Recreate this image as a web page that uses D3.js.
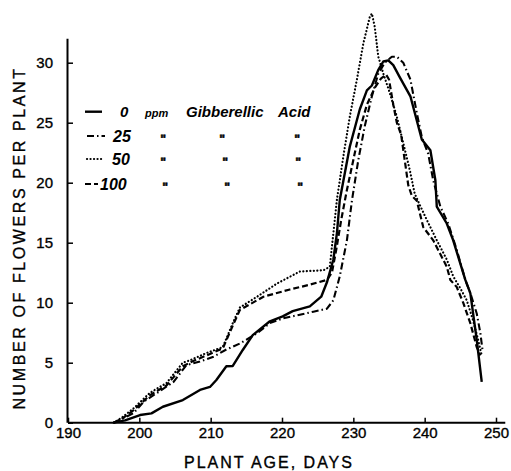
<!DOCTYPE html>
<html>
<head>
<meta charset="utf-8">
<script src="https://cdn.jsdelivr.net/npm/d3@7"></script>
<style>
html,body{margin:0;padding:0;background:#fff;}
svg{display:block;}
text{font-family:"Liberation Sans",Arial,sans-serif;fill:#000;}
</style>
</head>
<body>
<svg id="chart" width="511" height="471"></svg>
<script>
// ---- data (day, flowers per plant) ----
const series0 = [[196.4,0],[198,0.2],[200.1,0.64],[201.7,0.78],[203.3,1.33],[206.1,1.89],[208.5,2.73],[209.9,2.98],[210.8,3.56],[212.2,4.7],[213.1,4.73],[214.5,6.06],[215.9,7.3],[218.3,8.45],[220.1,8.86],[221.5,9.3],[223.9,9.7],[225.5,10.5],[226.3,11.7],[227.2,13.6],[227.7,15.8],[228.1,18.56],[229.5,23.0],[230.9,26.1],[231.9,27.7],[232.6,28.1],[233.5,29.4],[234.2,30.1],[234.9,30.2],[235.6,29.8],[236.5,28.8],[238.0,27.2],[239.6,23.6],[240.8,22.7],[241.5,20.2],[241.7,18.0],[243.1,16.6],[244.0,15.2],[245.7,11.9],[246.4,10.8],[247.3,6.9],[248.0,3.4]];
const series25 = [[196.4,0],[197.5,0.3],[199.2,0.8],[200.6,1.75],[202.4,2.45],[204.8,3.4],[206.6,4.8],[208.5,5.1],[210.4,5.5],[212.2,6.1],[214.1,6.6],[216.5,7.45],[218.3,8.3],[220.2,8.7],[222.5,9.0],[224.4,9.25],[226.3,9.5],[227.2,10.2],[228.1,12.2],[229.1,15.2],[229.8,18.5],[230.7,21.9],[231.6,24.7],[232.6,27.2],[233.5,29.1],[234.4,30.0],[235.4,30.5],[236.1,30.5],[237.0,30.0],[238.0,28.6],[238.9,25.8],[239.6,23.8],[240.5,22.4],[241.2,20.2],[242.2,18.0],[243.3,16.6],[244.5,14.4],[245.7,11.9],[246.4,10.8],[247.3,9.1],[247.8,7.5],[248.1,6.1]];
const series50 = [[196.4,0],[197.5,0.4],[199.2,1.2],[201.5,2.5],[203.8,3.3],[206.1,5.0],[207.1,5.2],[209.4,5.8],[211.7,6.3],[213.1,8.3],[214.1,9.6],[216.5,10.5],[219.3,11.6],[222.5,12.6],[225.8,12.7],[226.7,13.0],[227.7,18.6],[228.6,22.2],[229.5,25.5],[230.5,28.6],[231.4,31.6],[232.3,33.8],[232.6,34.1],[233.0,33.0],[233.5,30.5],[234.2,29.1],[235.1,27.5],[236.1,25.5],[237.0,23.3],[237.9,21.1],[238.6,19.1],[239.2,18.3],[240.3,16.9],[241.7,15.2],[243.1,13.6],[244.0,12.2],[245.0,11.2],[245.9,10.2],[246.8,8.5],[247.5,6.9],[248.0,5.6]];
const series100 = [[196.4,0],[197.5,0.3],[199.2,1.05],[201.5,2.3],[203.8,3.1],[206.1,4.7],[207.4,5.1],[209.4,5.6],[211.7,6.2],[213.1,8.1],[214.1,9.4],[216.5,10.2],[217.4,10.5],[221.1,11.1],[223.9,11.5],[226.3,11.9],[227.0,12.5],[227.6,14.4],[228.3,16.9],[229.1,19.4],[230.0,21.9],[230.9,24.4],[231.9,26.5],[233.0,27.9],[233.9,28.7],[234.6,29.0],[235.0,28.6],[235.6,26.5],[236.1,25.0],[236.7,24.0],[237.2,21.9],[237.7,19.8],[238.2,18.9],[238.9,18.5],[239.8,16.3],[241.2,15.2],[243.1,13.0],[243.6,11.9],[244.5,11.3],[245.4,10.0],[246.4,8.3],[247.3,6.3],[247.8,5.6]];
const xTicks = [190,200,210,220,230,240,250];
const yTicks = [0,5,10,15,20,25,30];
const legendDoses = ["0","25","50","100"];
const legendUnit = "ppm";
const legendWords = ["Gibberellic","Acid"];
const dittoMark = "\"";
const xTitle = "PLANT AGE, DAYS";
const yTitle = "NUMBER OF FLOWERS PER PLANT";

// ---- drawing ----
const svg = d3.select("#chart");
const x = d3.scaleLinear().domain([190,250]).range([68,496]);
const y = d3.scaleLinear().domain([0,30]).range([422.7,62.7]);

// axis lines
svg.append("line").attr("x1",x(190)).attr("x2",x(251.3)).attr("y1",y(0)).attr("y2",y(0))
  .attr("stroke","#000").attr("stroke-width",2);
svg.append("line").attr("x1",x(190)-0.5).attr("x2",x(190)-0.5).attr("y1",y(0)).attr("y2",y(32))
  .attr("stroke","#000").attr("stroke-width",2);

const xAxis = d3.axisBottom(x).tickValues(xTicks).tickSizeInner(-5).tickSizeOuter(0).tickPadding(5);
const gx = svg.append("g").attr("transform",`translate(0,${y(0)})`).call(xAxis);
gx.select(".domain").remove();
gx.selectAll(".tick line").attr("stroke","#000").attr("stroke-width",1.5);
gx.selectAll(".tick text").attr("font-size",15).attr("fill","#000").attr("stroke","#000").attr("stroke-width",0.35)
  .attr("font-family","Liberation Sans, Arial, sans-serif");

const yAxis = d3.axisLeft(y).tickValues(yTicks).tickSizeInner(-5).tickSizeOuter(0).tickPadding(15);
const gy = svg.append("g").attr("transform",`translate(${x(190)},0)`).call(yAxis);
gy.select(".domain").remove();
gy.selectAll(".tick line").attr("stroke","#000").attr("stroke-width",1.5);
gy.selectAll(".tick text").attr("font-size",15).attr("fill","#000").attr("stroke","#000").attr("stroke-width",0.35)
  .attr("font-family","Liberation Sans, Arial, sans-serif");

// titles
svg.append("text").attr("x",269).attr("y",468).attr("text-anchor","middle")
  .attr("font-size",16).attr("letter-spacing","2px").attr("stroke","#000").attr("stroke-width",0.35).text(xTitle);
svg.append("text").attr("transform","translate(25,238) rotate(-90)").attr("text-anchor","middle")
  .attr("font-size",16).attr("letter-spacing","2.6px").attr("stroke","#000").attr("stroke-width",0.35).text(yTitle);

// lines
const line = d3.line().x(d=>x(d[0])).y(d=>y(d[1]));
const styles = [
  {data:series0, dash:null, w:2.4, cap:"butt"},
  {data:series25, dash:"7 3 1.5 3", w:2.1, cap:"butt"},
  {data:series50, dash:"0.1 3.4", w:2.2, cap:"round"},
  {data:series100, dash:"6 3", w:2.2, cap:"butt"}
];
styles.forEach(s=>{
  svg.append("path").datum(s.data).attr("d",line).attr("fill","none")
    .attr("stroke","#000").attr("stroke-width",s.w).attr("stroke-linecap",s.cap)
    .attr("stroke-linejoin","round").attr("stroke-dasharray",s.dash);
});

// legend
const legY = [111.7,136,159,184];
const sampleX = [[85,102],[87,105],[87,102],[85,98]];
const doseX = [120,113,112,100];
styles.forEach((s,i)=>{
  svg.append("line").attr("x1",sampleX[i][0]).attr("x2",sampleX[i][1]).attr("y1",legY[i]).attr("y2",legY[i])
    .attr("stroke","#000").attr("stroke-width",s.w).attr("stroke-linecap",s.cap)
    .attr("stroke-dasharray",s.dash);
  svg.append("text").attr("x",doseX[i]).attr("y",legY[i]+5.5)
    .attr("font-size",i===0?15:16).attr("font-style","italic").attr("font-weight","bold")
    .text(legendDoses[i]);
});
svg.append("text").attr("x",145).attr("y",117).attr("font-size",11).attr("font-style","italic").attr("font-weight","bold").text(legendUnit);
svg.append("text").attr("x",186).attr("y",117).attr("font-size",15).attr("font-style","italic").attr("font-weight","bold").text(legendWords[0]);
svg.append("text").attr("x",278).attr("y",117).attr("font-size",15).attr("font-style","italic").attr("font-weight","bold").text(legendWords[1]);
const dittoX = [[163,222,297],[163,225,298],[165,227,300]];
[1,2,3].forEach((r,k)=>{
  dittoX[k].forEach(dx=>{
    svg.append("text").attr("transform",`translate(${dx},${legY[r]+7}) rotate(0.5)`).attr("text-anchor","middle")
      .attr("font-family","DejaVu Sans, sans-serif").attr("opacity",0.99)
      .attr("font-size",12).attr("font-weight","bold").attr("fill","#000")
      .attr("stroke","#000").attr("stroke-width",0.6).text(dittoMark);
  });
});
</script>
</body>
</html>
